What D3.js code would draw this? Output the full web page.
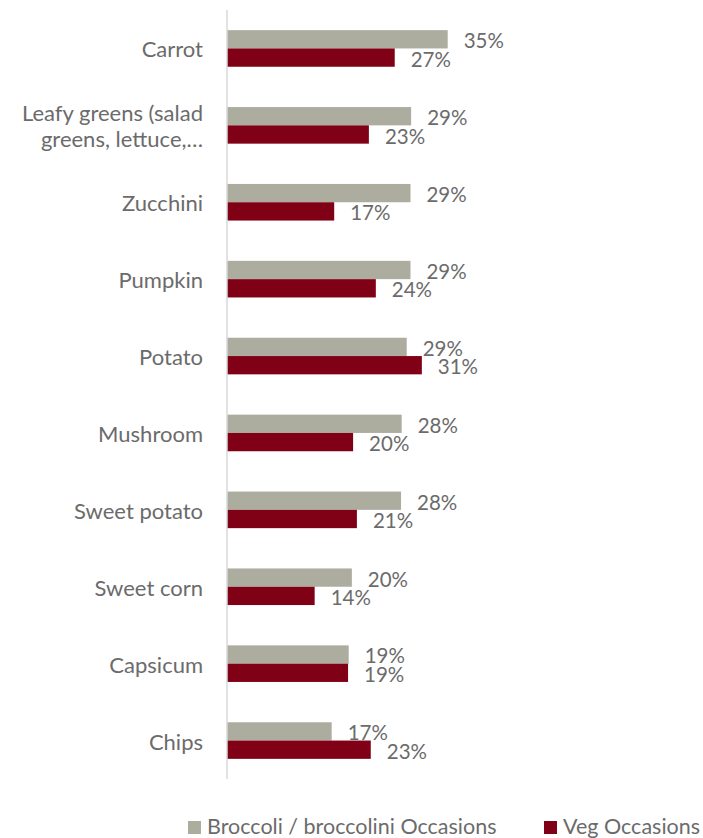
<!DOCTYPE html>
<html>
<head>
<meta charset="utf-8">
<script src="https://cdn.jsdelivr.net/npm/d3@7"></script>
<style>
  html, body { margin: 0; padding: 0; background: #fff; }
  svg { display: block; }
  text { font-family: Lato, "Open Sans", sans-serif; fill: #6b6b6b; }
</style>
</head>
<body>
<svg id="chart" width="703" height="838"></svg>
<script>
const categories = ["Carrot", "Leafy greens (salad greens, lettuce,…", "Zucchini", "Pumpkin", "Potato", "Mushroom", "Sweet potato", "Sweet corn", "Capsicum", "Chips"];
const categoryLines = [["Carrot"], ["Leafy greens (salad", "greens, lettuce,…"], ["Zucchini"], ["Pumpkin"], ["Potato"], ["Mushroom"], ["Sweet potato"], ["Sweet corn"], ["Capsicum"], ["Chips"]];
const broccoliValues = [35, 29.2, 29.1, 29.1, 28.5, 27.7, 27.6, 19.8, 19.3, 16.6];
const vegValues = [26.6, 22.5, 17.0, 23.6, 30.9, 20.0, 20.6, 13.9, 19.2, 22.8];
const seriesNames = ["Broccoli / broccolini Occasions", "Veg Occasions"];
const colors = ["#adad9f", "#800016"];

const svg = d3.select("#chart");
const x = d3.scaleLinear().domain([0, 35]).range([227, 447.7]);
const y = d3.scaleBand().domain(categories).range([10, 779]).paddingInner(0.524).paddingOuter(0.262);
const sub = d3.scaleBand().domain([0, 1]).range([0, y.bandwidth()]);

const series = [broccoliValues, vegValues];

// bars
series.forEach((vals, si) => {
  svg.append("g").selectAll("rect").data(categories).join("rect")
    .attr("x", x(0))
    .attr("y", d => y(d) + sub(si))
    .attr("width", (d, i) => x(vals[i]) - x(0))
    .attr("height", sub.bandwidth())
    .attr("fill", colors[si]);
});

// axis line
svg.append("line")
  .attr("x1", x(0)).attr("x2", x(0))
  .attr("y1", 10).attr("y2", 779)
  .attr("stroke", "#d9d9d9").attr("stroke-width", 1.5);

// data labels
series.forEach((vals, si) => {
  svg.append("g").selectAll("text").data(categories).join("text")
    .attr("x", (d, i) => x(vals[i]) + 16)
    .attr("y", d => y(d) + sub(si) + sub.bandwidth() / 2 + 1)
    .attr("dominant-baseline", "central")
    .attr("font-size", 20.5)
    .text((d, i) => Math.round(vals[i]) + "%");
});

// category labels
const cat = svg.append("g").selectAll("text").data(categories).join("text")
  .attr("text-anchor", "end")
  .attr("font-size", 22)
  .attr("dominant-baseline", "central");
cat.each(function(d, i) {
  const lines = categoryLines[i];
  const cy = y(d) + y.bandwidth() / 2;
  const lh = 26;
  lines.forEach((ln, k) => {
    d3.select(this).append("tspan")
      .attr("x", 203)
      .attr("y", cy + (k - (lines.length - 1) / 2) * lh)
      .text(ln);
  });
});

// legend
const legendX = [188, 544];
const legend = svg.append("g").selectAll("g").data(seriesNames).join("g");
legend.append("rect")
  .attr("x", (d, i) => legendX[i]).attr("y", 821)
  .attr("width", 13).attr("height", 13)
  .attr("fill", (d, i) => colors[i]);
legend.append("text")
  .attr("x", (d, i) => legendX[i] + 19)
  .attr("y", 826)
  .attr("dominant-baseline", "central")
  .attr("font-size", 21.5)
  .text(d => d);
</script>
</body>
</html>
